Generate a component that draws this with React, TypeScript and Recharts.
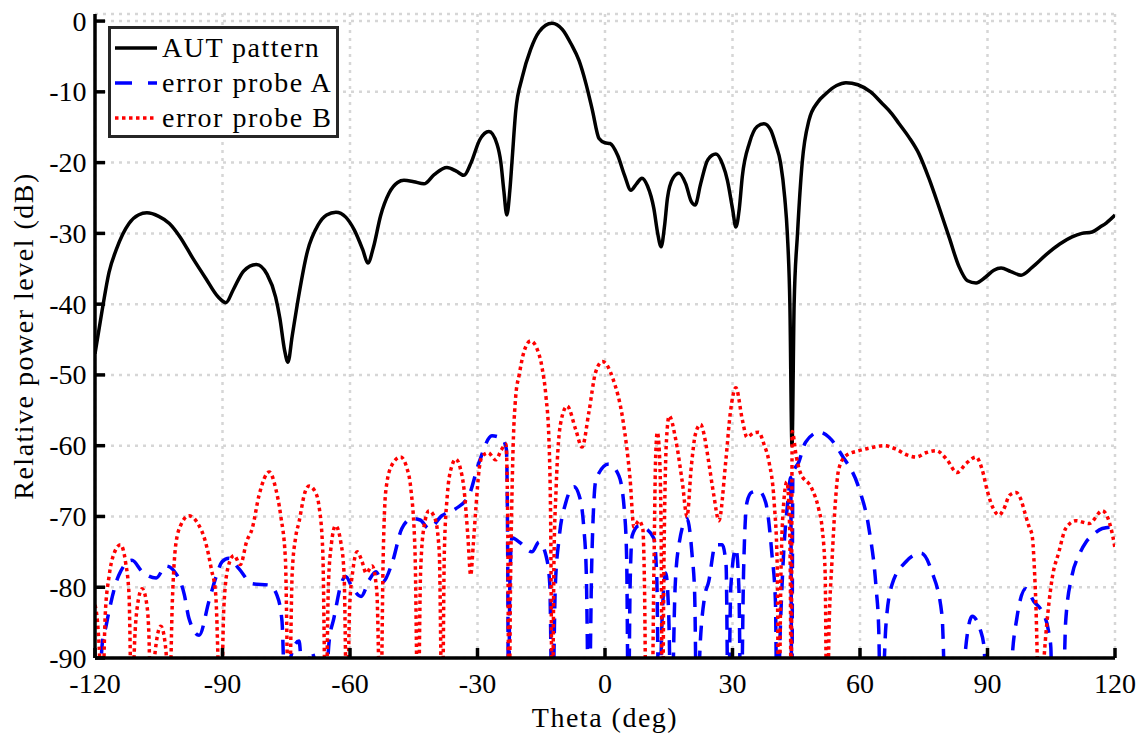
import React from "react";
import { LineChart, Line, XAxis, YAxis, CartesianGrid, Legend } from "recharts";

type Pt = [number, number];

const thetaTicks = [-120, -90, -60, -30, 0, 30, 60, 90, 120];
const levelTicks = [0, -10, -20, -30, -40, -50, -60, -70, -80, -90];
const seriesNames = ["AUT pattern", "error probe A", "error probe B"];

// [theta (deg), level (dB)]
const autPattern: Pt[] = [
  [-120, -47], [-118.3, -40.8], [-116.7, -35.5], [-115, -32.3], [-112, -28.6], [-109.8, -27.4],
  [-107.8, -27.1], [-105, -27.6], [-102.5, -28.6], [-100, -30.5], [-97, -33.5], [-94, -36.3],
  [-91, -39], [-89.2, -39.8], [-87.5, -38], [-85, -35.3], [-82, -34.4], [-79.5, -35.8],
  [-77.5, -39], [-76.5, -42], [-75.4, -46.5], [-74.6, -48.2], [-73.6, -44.5], [-72.4, -40],
  [-70, -32.5], [-67.5, -28.8], [-65.5, -27.4], [-63.3, -27], [-61, -27.7], [-59, -29.5],
  [-57, -32.3], [-55.8, -34.2], [-54.5, -32], [-52.8, -27.5], [-50.8, -24.3], [-48.8, -22.8],
  [-47.3, -22.5], [-45, -22.7], [-42.6, -23], [-40.2, -21.7], [-37.2, -20.7], [-35, -21.2],
  [-33.2, -21.8], [-31.5, -20], [-29.5, -16.8], [-27.3, -15.6], [-25.4, -17.4], [-24.5, -20],
  [-23.8, -24], [-23.1, -27.4], [-22.4, -24], [-21.9, -20], [-21, -12.7], [-19.5, -8],
  [-17.5, -4], [-15.5, -1.5], [-12.5, -0.3], [-10, -1.2], [-8, -3.2], [-6.1, -5.6],
  [-4.5, -8.8], [-3, -12.5], [-1.4, -16.6], [0, -17.2], [1.2, -17.3], [3, -19],
  [4.6, -21.8], [6.1, -23.9], [7.4, -23], [8.7, -22.2], [10, -23.3], [11.5, -26.5],
  [12.4, -30], [13.2, -31.9], [14, -29], [14.7, -25], [16, -22.2], [17.4, -21.5],
  [19, -23], [20.3, -25.5], [21.2, -26], [22.5, -23], [24.2, -19.6], [26.1, -18.8],
  [27.7, -20.3], [28.8, -22.5], [30, -26.5], [30.8, -29.1], [31.6, -26.5], [32.3, -22],
  [34, -17.2], [35.8, -14.9], [37.4, -14.5], [39, -15.4], [40.2, -17.5], [41.3, -20],
  [42.3, -25], [42.9, -30], [43.5, -40], [44, -60], [44.5, -40], [45.3, -30],
  [46.4, -20], [48, -14], [50, -11.5], [51.9, -10.3], [54.5, -9.1], [56.7, -8.7],
  [59.5, -9], [62.5, -10], [65, -11.5], [67.5, -13.1], [69.2, -14.5], [71.5, -16.4],
  [73.9, -18.8], [76.2, -22.2], [78.6, -26.3], [81, -30.6], [83.3, -34.7], [85.3, -36.7],
  [87.3, -37], [89.5, -36.2], [91.5, -35.2], [93.2, -34.9], [95.5, -35.4], [97.9, -35.9],
  [100.5, -34.8], [103.8, -33], [107, -31.5], [109.9, -30.5], [112.2, -30], [114.6, -29.8],
  [116.5, -29.1], [118, -28.5], [120, -27.4],
];

const probeA: Pt[] = [
  [-119.1, -100], [-118.3, -88], [-117.4, -85.5], [-116.7, -83.4], [-114.4, -78.3], [-111.3, -76.2],
  [-108.9, -77.8], [-105.6, -78.7], [-103.3, -77], [-100.7, -78.3], [-99, -81], [-97.9, -84.4],
  [-95.5, -86.8], [-93.2, -82], [-91.5, -78.5], [-90.1, -76.4], [-88.5, -75.9], [-86.1, -77.4],
  [-83, -79.5], [-79, -79.7], [-77.2, -81.1], [-76, -84.8], [-75.1, -100],
  [-74, -90], [-72, -87.6], [-70.6, -100], [-69.2, -89], [-67.8, -92], [-66.3, -100],
  [-64.9, -87.6], [-63.8, -84.4], [-61.9, -79.2], [-61, -78.5], [-59.5, -80], [-57.4, -81.3],
  [-55.5, -79], [-53.9, -77.8], [-52.4, -79.3], [-50, -76.4], [-47.8, -71.7], [-45.4, -70.3],
  [-43.5, -70.5], [-41.4, -71.7], [-38.4, -69.9], [-35.1, -68.9], [-32, -67], [-29.6, -62.3],
  [-26.6, -58.6], [-24.2, -59], [-23.2, -60.5], [-22.9, -75], [-22.7, -100],
  [-22.4, -80], [-21.9, -73], [-20.2, -73.6], [-17.2, -75], [-15.5, -73.6], [-13.9, -75.5],
  [-13, -79.5], [-12.4, -100],
  [-11.7, -80], [-10.8, -73.1], [-9.2, -68], [-7.3, -65.8], [-6.1, -67], [-5, -71.5],
  [-4.4, -78], [-3.8, -100],
  [-3.1, -76], [-2.1, -64.7], [0.9, -62.6], [3.3, -64.3], [4.6, -69.5], [5.1, -76], [5.5, -100],
  [5.9, -80], [6.4, -72.7], [8, -71.3], [9.6, -71.7], [11.5, -73.1], [12.2, -79], [12.7, -100],
  [13.4, -85], [14.3, -78], [15, -84], [15.6, -100],
  [16.5, -80], [17.4, -74], [19.3, -70.3], [20.5, -75.5], [21.1, -81], [21.6, -100],
  [22.4, -88], [23.4, -81.5], [24.4, -79.2], [26, -74], [27.6, -74], [28.5, -77], [29, -100],
  [29.6, -80], [30.8, -74.5], [31.5, -80], [32, -100],
  [32.6, -78], [33.4, -68], [34.5, -66.6], [36.2, -66.4], [37.8, -68], [39.3, -75.5],
  [40.1, -82], [40.5, -100],
  [41.3, -85], [42.1, -74.5], [43, -68], [43.7, -64.5], [43.95, -100], [44.2, -64],
  [45.6, -62.3], [47.2, -59.5], [50.4, -58.1], [52.7, -58.8], [55.8, -61.4], [59.8, -66.1],
  [62.1, -71.7], [63.8, -80.2], [64.4, -85.8], [64.9, -100],
  [66.1, -85.4], [67.5, -79.7], [70.8, -76.4], [74.4, -75.2], [76.9, -77.8], [79.3, -84],
  [80.3, -100], [83.9, -100], [84.8, -89], [86.4, -84.1], [88.3, -86], [89.2, -88.5],
  [89.9, -100], [95, -100], [95.8, -90], [96.9, -84.4], [99, -80.2], [100.9, -82],
  [102.8, -83.4], [104.3, -86], [104.9, -88.5], [105.3, -100], [107.6, -100], [108.4, -84.8],
  [109.9, -78.3], [111.5, -75.5], [113.2, -73.6], [115, -72.5], [117, -71.7], [119.3, -71.5],
  [120, -71.8],
];

const probeB: Pt[] = [
  [-120, -82.5], [-119.4, -85], [-118.9, -90], [-118.4, -100],
  [-117.6, -84], [-116.7, -78.5], [-115.5, -75.2], [-114, -74], [-112.8, -76.5], [-112, -81], [-111.3, -100],
  [-110.7, -88], [-110.1, -83], [-108.9, -80.2], [-107.8, -82.5], [-107.3, -87], [-106.8, -100],
  [-106, -90], [-104.5, -85.5], [-103.3, -89], [-102.6, -100],
  [-101.8, -82], [-101, -74], [-99.8, -71.2], [-97.9, -69.9], [-95.8, -71], [-94, -73.6],
  [-92.6, -77.5], [-91.6, -81], [-90.4, -100],
  [-89.7, -83], [-88.7, -77.2], [-87.3, -75.5], [-85.8, -76.8], [-84.3, -73.5], [-83, -71.7],
  [-81.4, -67], [-79, -63.7], [-77.5, -66], [-76.3, -69.9], [-75.2, -76], [-74.4, -100],
  [-73.6, -78], [-72.8, -73], [-72, -70.8], [-70.6, -66.6], [-69.6, -65.7], [-68.2, -66.5],
  [-67.3, -68.5], [-66.4, -75], [-65.7, -100],
  [-65.1, -80], [-64.4, -74], [-63.4, -71.3], [-62.2, -73.5], [-61.4, -78], [-60.7, -100],
  [-60.1, -83], [-59.3, -77.5], [-58.3, -75], [-57.2, -76.3], [-56.2, -78], [-54.8, -77],
  [-53.7, -80.5], [-52.8, -100],
  [-52.2, -76], [-51.6, -66.5], [-50.2, -62.8], [-48.1, -61.6], [-46.6, -63.2], [-45.7, -66],
  [-44.7, -75], [-44, -100],
  [-43.4, -78], [-42.6, -71.5], [-41.4, -69.2], [-40, -70.3], [-39, -75], [-38.3, -100],
  [-37.8, -75], [-37.1, -67], [-36.1, -63], [-35.1, -61.9], [-34, -63.3], [-33.2, -66],
  [-32.3, -72.5], [-31.6, -78.3], [-31, -74], [-30.4, -69], [-29.6, -63.3], [-28.9, -61.5],
  [-27.5, -61], [-25.7, -62], [-24.4, -60.6], [-23.3, -59.8], [-22.9, -70], [-22.6, -100],
  [-22.2, -78], [-21.7, -62], [-21, -53], [-20.2, -50], [-19, -46.6], [-17.5, -45.2],
  [-16, -46.3], [-14.8, -49], [-13.9, -53], [-13.2, -59], [-12.8, -70], [-12.4, -100],
  [-12, -76], [-11.5, -66], [-10.4, -56.7], [-8.9, -54.4], [-6.9, -57.7], [-5.4, -60.2],
  [-3.8, -55.3], [-2.2, -49.6], [-0.6, -48.1], [1.9, -50.6], [4.3, -56.7], [5.9, -64.7],
  [6.8, -71.5], [8, -70.6], [8.9, -71.8], [9.3, -80], [9.7, -100],
  [11, -100], [11.5, -78], [11.9, -62], [12.3, -58.1], [12.8, -61], [13.2, -72], [13.5, -100],
  [13.9, -75], [14.4, -60], [15.1, -55.8], [16.6, -59], [18.2, -65.2], [19.3, -70],
  [20.3, -63], [21.3, -58.3], [22.5, -57], [23.5, -59], [24.4, -62.3], [25.6, -67],
  [26.8, -70.6], [28.4, -62.3], [29.5, -55.3], [30.8, -51.8], [32.3, -56.3], [33.4, -58.8],
  [35, -58.2], [36.2, -58.1], [37.4, -59.8], [38.6, -62.3], [39.8, -68], [40.5, -76.4], [40.9, -100],
  [41.4, -78], [42, -68.5], [42.8, -65.1], [43.3, -69], [43.6, -78], [43.8, -100],
  [44.05, -58], [45, -61.5], [45.9, -63.7], [48.7, -66.1], [50.3, -69], [51.1, -71.7],
  [51.8, -78], [52.2, -100],
  [52.8, -84], [53.4, -76.4], [54.2, -68], [55, -63.3], [56.7, -61.4], [59.8, -60.7],
  [62.5, -60.3], [65.6, -60], [68.5, -60.5], [71, -61.3], [73.2, -61.6], [75.5, -61],
  [77.9, -60.7], [80.5, -62], [82.8, -63.8], [85, -62.5], [87.3, -61.6], [88.8, -63.5],
  [90, -66.5], [91.3, -68.8], [92.7, -69.8], [93.8, -69], [95.2, -67], [96.7, -66.6],
  [97.8, -67.5], [98.8, -69.5], [99.8, -71.5], [100.5, -72.7], [101.3, -81], [102.3, -100],
  [103.3, -90], [104.5, -82], [105.2, -78.8], [106.8, -75], [108.4, -71.7], [110.8, -70.6],
  [113.9, -71], [117, -69.2], [118.5, -70.5], [119.8, -73.8], [120, -74.5],
];

const toRows = (pts: Pt[]) => pts.map(([theta, level]) => ({ theta, level }));

const FONT = "'Liberation Serif', 'Times New Roman', serif";
const FRAME = { stroke: "#000", strokeWidth: 3.5 };

const series = [
  { name: seriesNames[0], rows: toRows(autPattern), color: "#000000", dash: undefined, legendDash: undefined },
  { name: seriesNames[1], rows: toRows(probeA), color: "#0000ff", dash: "15 10", legendDash: "17 16" },
  { name: seriesNames[2], rows: toRows(probeB), color: "#ff0000", dash: "3.5 3.5", legendDash: "3.5 3.5" },
];

const BottomTick = ({ x, y, payload }: any) => (
  <g>
    <line x1={x} y1={y} x2={x} y2={y - 10} {...FRAME} />
    <text x={x} y={y + 35} textAnchor="middle" fontFamily={FONT} fontSize={28} fill="#000">
      {payload.value}
    </text>
  </g>
);

const LeftTick = ({ x, y, payload }: any) => (
  <g>
    <line x1={x} y1={y} x2={x + 10} y2={y} {...FRAME} />
    <text x={x - 8.5} y={y + 9.5} textAnchor="end" fontFamily={FONT} fontSize={28} fill="#000">
      {payload.value}
    </text>
  </g>
);

const TopTick = ({ x, y }: any) => <line x1={x} y1={y} x2={x} y2={y + 10} {...FRAME} />;
const RightTick = ({ x, y }: any) => <line x1={x} y1={y} x2={x - 10} y2={y} {...FRAME} />;

const XLabel = ({ viewBox }: any) => (
  <text
    x={viewBox.x + viewBox.width / 2}
    y={viewBox.y + 69}
    textAnchor="middle"
    fontFamily={FONT}
    fontSize={28}
    letterSpacing={1.5}
    fill="#000"
  >
    Theta (deg)
  </text>
);

const YLabel = ({ viewBox }: any) => {
  const cx = viewBox.x + 15;
  const cy = viewBox.y + viewBox.height / 2;
  return (
    <text
      x={cx}
      y={cy}
      transform={`rotate(-90, ${cx}, ${cy})`}
      textAnchor="middle"
      fontFamily={FONT}
      fontSize={28}
      letterSpacing={1.5}
      fill="#000"
    >
      Relative power level (dB)
    </text>
  );
};

const LegendBox = () => (
  <div
    style={{
      boxSizing: "border-box",
      width: 231,
      height: 112,
      border: "3px solid #262626",
      background: "#fff",
      fontFamily: FONT,
      fontSize: 28,
      letterSpacing: 1.5,
      color: "#000",
      paddingTop: 1,
    }}
  >
    {series.map((s) => (
      <div key={s.name} style={{ display: "flex", alignItems: "center", height: 35 }}>
        <svg width={51} height={12} style={{ flex: "none" }}>
          <line x1={4} y1={6} x2={46} y2={6} stroke={s.color} strokeWidth={3.5} strokeDasharray={s.legendDash} />
        </svg>
        <span style={{ whiteSpace: "nowrap", lineHeight: "35px" }}>{s.name}</span>
      </div>
    ))}
  </div>
);

export default function App() {
  // negative top margin collapses with the body margin so the svg starts at the page top
  return (
    <div style={{ marginTop: -8 }}>
      <LineChart width={1138} height={740} margin={{ top: 14, right: 31, bottom: 0, left: 10 }}>
        <CartesianGrid stroke="#d6d6d6" strokeWidth={2.5} strokeDasharray="3 5" />
        {series.map((s) => (
          <Line
            key={s.name}
            data={s.rows}
            dataKey="level"
            name={s.name}
            type="monotone"
            stroke={s.color}
            strokeWidth={3.5}
            strokeDasharray={s.dash}
            dot={false}
            activeDot={false}
            isAnimationActive={false}
          />
        ))}
        <XAxis
          dataKey="theta"
          type="number"
          domain={[-120, 120]}
          ticks={thetaTicks}
          interval={0}
          allowDataOverflow
          height={82}
          tickSize={0}
          tickMargin={0}
          tickLine={false}
          axisLine={FRAME}
          tick={BottomTick}
          label={XLabel}
        />
        <XAxis
          xAxisId="top"
          orientation="top"
          dataKey="theta"
          type="number"
          domain={[-120, 120]}
          ticks={thetaTicks}
          interval={0}
          allowDataOverflow
          height={0}
          tickSize={0}
          tickMargin={0}
          tickLine={false}
          axisLine={FRAME}
          tick={TopTick}
        />
        <YAxis
          type="number"
          domain={[-90, 1]}
          ticks={levelTicks}
          interval={0}
          allowDataOverflow
          width={77}
          tickSize={0}
          tickMargin={0}
          tickLine={false}
          axisLine={FRAME}
          tick={LeftTick}
          label={YLabel}
        />
        <YAxis
          yAxisId="right"
          orientation="right"
          type="number"
          domain={[-90, 1]}
          ticks={levelTicks}
          interval={0}
          allowDataOverflow
          width={0}
          tickSize={0}
          tickMargin={0}
          tickLine={false}
          axisLine={FRAME}
          tick={RightTick}
        />
        <Legend
          layout="vertical"
          align="center"
          verticalAlign="middle"
          content={() => <LegendBox />}
          wrapperStyle={{ left: 100, top: 26, width: 231, height: 112 }}
        />
      </LineChart>
    </div>
  );
}
